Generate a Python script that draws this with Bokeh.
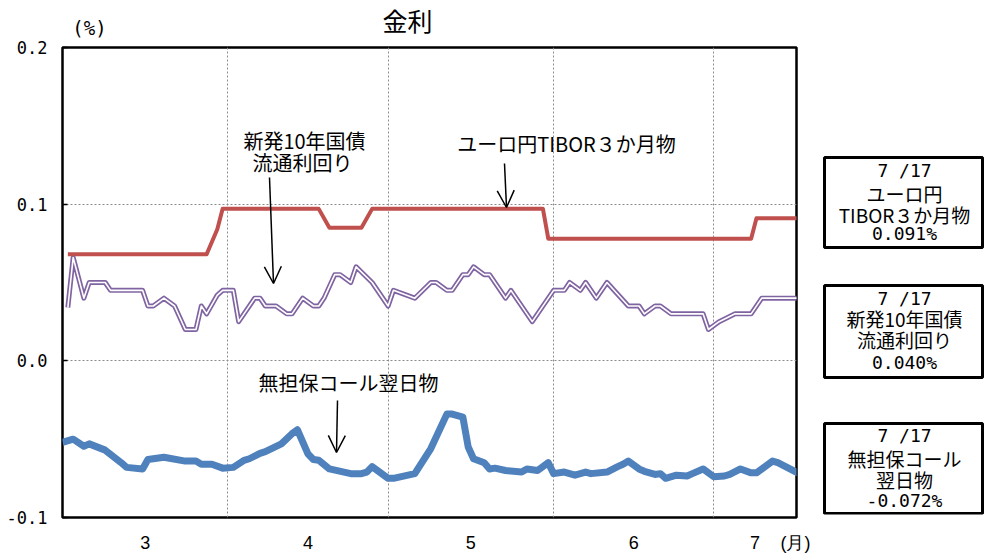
from bokeh.plotting import figure
from bokeh.layouts import column, row
from bokeh.models import (Range1d, FixedTicker, Label, Arrow, OpenHead,
                          BoxAnnotation, NumeralTickFormatter, ColumnDataSource)
from bokeh.embed import file_html
from bokeh.resources import INLINE

# ---------------- data ----------------
month_starts = {3: 0, 4: 31, 5: 61, 6: 92, 7: 122}   # day offsets from 3/1
month_labels = ["3", "4", "5", "6", "7"]
unit_label = "(月)"
x_end = 137.5
y_ticks = [-0.1, 0.0, 0.1, 0.2]
y_grid = [0.0, 0.1]

# ユーロ円TIBOR３か月物
tibor_dates = ["3/2", "3/28", "3/30", "3/31", "4/18", "4/20", "4/26", "4/28",
               "5/30", "5/31", "7/8", "7/9", "7/17"]
tibor_vals = [0.068, 0.068, 0.084, 0.097, 0.097, 0.085, 0.085, 0.097,
              0.097, 0.078, 0.078, 0.091, 0.091]

# 新発10年国債流通利回り
jgb_dates = ["3/2", "3/3", "3/5", "3/6", "3/9", "3/10", "3/16", "3/17", "3/18", "3/20",
             "3/22", "3/24", "3/26", "3/27", "3/28", "3/30", "3/31",
             "4/2", "4/3", "4/4", "4/6", "4/7", "4/8", "4/10", "4/12", "4/13",
             "4/15", "4/17", "4/18", "4/19", "4/21", "4/22", "4/24", "4/25", "4/28",
             "5/1", "5/2", "5/6", "5/9", "5/10", "5/12", "5/13", "5/15", "5/16",
             "5/17", "5/19", "5/20", "5/23", "5/24", "5/28",
             "6/1", "6/3", "6/4", "6/6", "6/7", "6/9", "6/11", "6/15", "6/17",
             "6/18", "6/20", "6/21", "6/23", "6/29", "6/30",
             "7/2", "7/5", "7/8", "7/10", "7/17"]
jgb_vals = [0.034, 0.066, 0.040, 0.050, 0.050, 0.045, 0.045, 0.035, 0.035, 0.040,
            0.035, 0.020, 0.020, 0.035, 0.030, 0.042, 0.045,
            0.045, 0.025, 0.030, 0.040, 0.040, 0.035, 0.035, 0.030, 0.030,
            0.040, 0.035, 0.035, 0.040, 0.055, 0.055, 0.050, 0.060, 0.050,
            0.035, 0.045, 0.040, 0.050, 0.050, 0.045, 0.045, 0.055, 0.055,
            0.060, 0.055, 0.055, 0.040, 0.045, 0.025,
            0.045, 0.045, 0.050, 0.045, 0.050, 0.040, 0.050, 0.035, 0.035,
            0.030, 0.035, 0.035, 0.030, 0.030, 0.020,
            0.025, 0.030, 0.030, 0.040, 0.040]

# 無担保コール翌日物
call_dates = ["3/1", "3/3", "3/5", "3/6", "3/9", "3/12", "3/13", "3/16", "3/17", "3/20",
              "3/24", "3/26", "3/27", "3/29", "3/31",
              "4/2", "4/4", "4/5", "4/7", "4/8", "4/11", "4/13", "4/14", "4/16",
              "4/17", "4/18", "4/20", "4/24", "4/26", "4/27", "4/28",
              "5/1", "5/2", "5/6", "5/9", "5/12", "5/13", "5/15", "5/16", "5/17",
              "5/19", "5/20", "5/21", "5/23", "5/26", "5/27", "5/29", "5/31",
              "6/1", "6/3", "6/5", "6/7", "6/8", "6/11", "6/13", "6/14", "6/15",
              "6/17", "6/18", "6/20", "6/21", "6/22", "6/24", "6/26", "6/27", "6/29",
              "7/1", "7/3", "7/4", "7/6", "7/8", "7/9", "7/12", "7/13", "7/17"]
call_vals = [-0.052, -0.050, -0.0545, -0.053, -0.057, -0.065, -0.068, -0.069, -0.063, -0.0615,
             -0.064, -0.064, -0.066, -0.066, -0.0685,
             -0.068, -0.0635, -0.0625, -0.059, -0.058, -0.053, -0.0465, -0.044, -0.0595,
             -0.063, -0.0635, -0.069, -0.072, -0.072, -0.071, -0.0675,
             -0.075, -0.075, -0.072, -0.056, -0.034, -0.034, -0.036, -0.055, -0.0625,
             -0.065, -0.069, -0.0685, -0.070, -0.071, -0.069, -0.070, -0.065,
             -0.072, -0.071, -0.073, -0.071, -0.072, -0.071, -0.0675, -0.066, -0.064,
             -0.069, -0.0705, -0.0725, -0.072, -0.075, -0.073, -0.0735, -0.072, -0.069,
             -0.074, -0.0735, -0.0725, -0.069, -0.0715, -0.0715, -0.064, -0.065, -0.072]

latest_date = "7 /17"
latest_tibor = "0.091%"
latest_jgb = "0.040%"
latest_call = "-0.072%"


def day(s):
    m, d = s.split("/")
    return month_starts[int(m)] + int(d) - 1


CJK = "Noto Sans CJK JP"
MONO = "DejaVu Sans Mono"
SANS = "Liberation Sans"

TOP_H = 38          # height of the title strip
MAIN_W = 820        # width of the chart figure
SIDE_W = 165        # width of the box column


def bare(width, height):
    f = figure(width=width, height=height, x_range=Range1d(0, 1), y_range=Range1d(0, 1),
               x_axis_location=None, y_axis_location=None, title=None,
               output_backend="svg", toolbar_location=None, min_border=0)
    f.outline_line_color = None
    f.background_fill_color = "white"
    f.border_fill_color = "white"
    f.grid.visible = False
    return f


def label(fig, x, y, text, font=CJK, size=20):
    fig.add_layout(Label(x=x, y=y, x_units="canvas", y_units="canvas", text=text,
                         text_font=font, text_font_size=f"{size}px", text_color="black",
                         text_align="center", text_baseline="middle"))


# ---------------- title strip ----------------
top = bare(MAIN_W + SIDE_W, TOP_H)
label(top, 407, 19, "金利", size=25)
label(top, 89, 27, "(%)", font=MONO, size=19)

# ---------------- main chart ----------------
p = figure(frame_width=734, frame_height=470, title=None,
           x_range=Range1d(0, x_end), y_range=Range1d(-0.1, 0.2),
           output_backend="svg", toolbar_location=None,
           min_border_left=62, min_border_right=MAIN_W - 62 - 734,
           min_border_top=47 - TOP_H, min_border_bottom=35)
p.background_fill_color = "white"
p.border_fill_color = "white"
p.outline_line_color = "black"
p.outline_line_width = 2.5

bounds = [month_starts[m] for m in (4, 5, 6, 7)]
p.xgrid.ticker = FixedTicker(ticks=bounds)
p.ygrid.ticker = FixedTicker(ticks=y_grid)
for g in (p.xgrid, p.ygrid):
    g.grid_line_color = "#8c8c8c"
    g.grid_line_dash = "2 2"
    g.grid_line_width = 1

edges = [month_starts[m] for m in (3, 4, 5, 6, 7)] + [x_end]
mids = [(edges[i] + edges[i + 1]) / 2 for i in range(len(month_labels))]
unit_pos = x_end - 0.2
p.xaxis.ticker = FixedTicker(ticks=mids + [unit_pos])
overrides = {m: lab for m, lab in zip(mids, month_labels)}
overrides[unit_pos] = unit_label
p.xaxis.major_label_overrides = overrides
p.xaxis.major_tick_line_color = None
p.xaxis.minor_tick_line_color = None
p.xaxis.axis_line_color = None
p.xaxis.major_label_text_font = SANS
p.xaxis.major_label_text_font_size = "18px"
p.xaxis.major_label_text_color = "black"
p.xaxis.major_label_standoff = 9

p.yaxis.ticker = FixedTicker(ticks=y_ticks)
p.yaxis.formatter = NumeralTickFormatter(format="0.0")
p.yaxis.major_tick_in = 5
p.yaxis.major_tick_out = 0
p.yaxis.major_tick_line_color = "black"
p.yaxis.major_tick_line_width = 1.5
p.yaxis.minor_tick_line_color = None
p.yaxis.axis_line_color = None
p.yaxis.major_label_text_font = MONO
p.yaxis.major_label_text_font_size = "17px"
p.yaxis.major_label_text_color = "black"
p.yaxis.major_label_standoff = 15

src_t = ColumnDataSource(dict(x=[day(d) for d in tibor_dates], y=tibor_vals))
src_j = ColumnDataSource(dict(x=[day(d) for d in jgb_dates], y=jgb_vals))
src_c = ColumnDataSource(dict(x=[day(d) for d in call_dates], y=call_vals))

p.line("x", "y", source=src_j, line_color="#8064A2", line_width=5, line_join="round")
p.line("x", "y", source=src_j, line_color="white", line_width=1.6, line_join="round")
p.line("x", "y", source=src_t, line_color="#C0504D", line_width=4, line_join="round")
p.line("x", "y", source=src_c, line_color="#4F81BD", line_width=7, line_join="round")


def arrow(fig, x0, y0, x1, y1):
    fig.add_layout(Arrow(x_start=x0, y_start=y0, x_end=x1, y_end=y1,
                         start_units="canvas", end_units="canvas",
                         line_color="black", line_width=1.5,
                         end=OpenHead(size=17, line_color="black", line_width=1.5)))


dy = TOP_H  # main figure starts below the title strip
label(p, 304, 140 - dy, "新発10年国債")
label(p, 302, 162 - dy, "流通利回り")
arrow(p, 269, 177 - dy, 273, 283 - dy)
label(p, 566, 143 - dy, "ユーロ円TIBOR３か月物")
arrow(p, 504, 163 - dy, 506, 207 - dy)
label(p, 348, 382 - dy, "無担保コール翌日物")
arrow(p, 337, 400 - dy, 336, 452 - dy)

# ---------------- latest-value boxes ----------------
side = bare(SIDE_W, p.frame_height + (47 - TOP_H) + 35)
dx = MAIN_W
boxes = [
    (157, 247, [(170, latest_date, MONO), (193, "ユーロ円", CJK),
                (214, "TIBOR３か月物", CJK), (233, latest_tibor, MONO)]),
    (285, 377, [(297.5, latest_date, MONO), (317.5, "新発10年国債", CJK),
                (339, "流通利回り", CJK), (361.5, latest_jgb, MONO)]),
    (423, 513, [(435, latest_date, MONO), (458, "無担保コール", CJK),
                (479, "翌日物", CJK), (500, latest_call, MONO)]),
]
for btop, bbot, lines in boxes:
    side.add_layout(BoxAnnotation(left=824 - dx, right=982 - dx, top=btop - dy, bottom=bbot - dy,
                                  left_units="canvas", right_units="canvas",
                                  top_units="canvas", bottom_units="canvas",
                                  fill_color="white", fill_alpha=1.0,
                                  line_color="black", line_alpha=1.0, line_width=3))
    for y, t, f in lines:
        label(side, 904 - dx, y - dy, t, font=f, size=19 if f == CJK else 18)

layout = column(top, row(p, side))
open("out.html", "w").write(file_html(layout, INLINE))
